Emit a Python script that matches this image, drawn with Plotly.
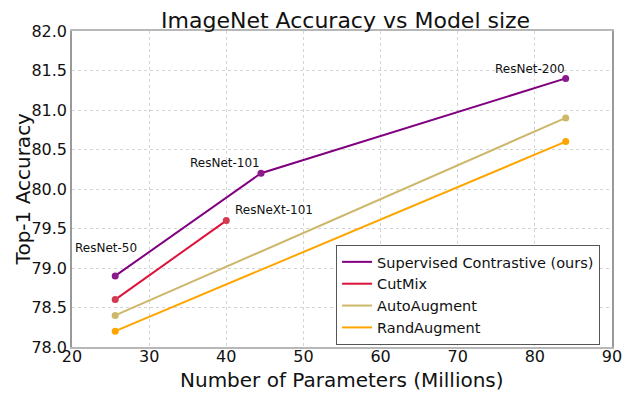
import plotly.graph_objects as go

series_names = ["Supervised Contrastive (ours)", "CutMix", "AutoAugment", "RandAugment"]
supcon_x = [25.6, 44.5, 84.0]
supcon_y = [78.9, 80.2, 81.4]
cutmix_x = [25.6, 40.0]
cutmix_y = [78.6, 79.6]
auto_x = [25.6, 84.0]
auto_y = [78.4, 80.9]
rand_x = [25.6, 84.0]
rand_y = [78.2, 80.6]
colors = ["#800080", "#DC143C", "#CDB76A", "#FFA500"]
marker_colors = ["#8B1A8B", "#D23A50", "#CDB76A", "#FFA500"]

label_text = ["ResNet-50", "ResNet-101", "ResNeXt-101", "ResNet-200"]
label_x = [24.4, 39.8, 46.2, 79.4]
label_y = [79.25, 80.33, 79.73, 81.52]

xs = [supcon_x, cutmix_x, auto_x, rand_x]
ys = [supcon_y, cutmix_y, auto_y, rand_y]

fig = go.Figure()
for name, x, y, c, mc in zip(series_names, xs, ys, colors, marker_colors):
    fig.add_trace(go.Scatter(x=x, y=y, mode="lines", name=name,
                             line=dict(color=c, width=2), hoverinfo="skip"))
for name, x, y, c, mc in zip(series_names, xs, ys, colors, marker_colors):
    fig.add_trace(go.Scatter(x=x, y=y, mode="markers", showlegend=False,
                             marker=dict(color=mc, size=7)))

for t, x, y in zip(label_text, label_x, label_y):
    fig.add_annotation(x=x, y=y, text=t, showarrow=False,
                       font=dict(size=12, color="#111"))

# axis titles as annotations for precise placement
fig.add_annotation(xref="paper", yref="paper", x=0.5, y=-0.105,
                   text="Number of Parameters (Millions)", showarrow=False,
                   xanchor="center", yanchor="middle",
                   font=dict(size=20, color="#111"))
fig.add_annotation(xref="paper", yref="paper", x=-0.09, y=0.5,
                   text="Top-1 Accuracy", showarrow=False, textangle=-90,
                   xanchor="center", yanchor="middle",
                   font=dict(size=20, color="#111"))

axis_common = dict(showline=True, mirror=True,
                   showgrid=True, gridcolor="#d4d4d4", griddash="dot", gridwidth=1,
                   zeroline=False, tickfont=dict(size=16, color="#111"),
                   ticks="", automargin=False)

fig.update_layout(
    width=640, height=396,
    margin=dict(l=72, r=28, t=31, b=49),
    paper_bgcolor="white", plot_bgcolor="white",
    font=dict(family="DejaVu Sans", color="#111"),
    title=dict(text="ImageNet Accuracy vs Model size", x=0.54, xanchor="center",
               y=0.95, yanchor="middle", font=dict(size=22, color="#111")),
    xaxis=dict(range=[20, 90], dtick=10, linecolor="#b8b8b8", linewidth=2,
               ticklabelstandoff=-6, **axis_common),
    yaxis=dict(range=[78, 82], dtick=0.5, tickformat=".1f",
               linecolor="#999", linewidth=1.5, **axis_common),
    legend=dict(x=0.489, y=0.323, xanchor="left", yanchor="top",
                bgcolor="white", bordercolor="#555", borderwidth=1,
                font=dict(size=14.5, color="#111"), tracegroupgap=0, itemwidth=30),
)

fig.write_html("out.html", config={"displayModeBar": False},
               post_script="document.body.style.margin='0';")
